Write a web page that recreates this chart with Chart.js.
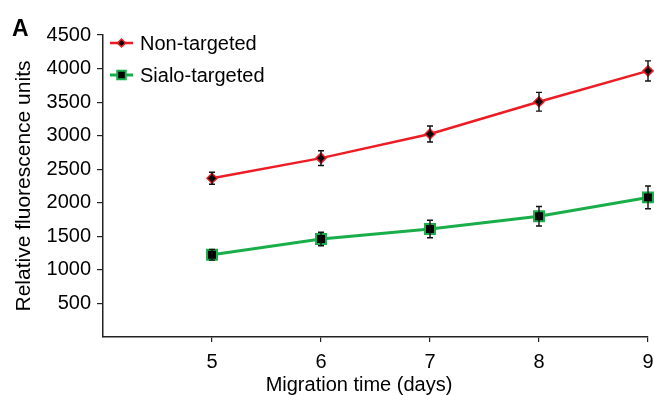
<!DOCTYPE html>
<html>
<head>
<meta charset="utf-8">
<script src="https://cdn.jsdelivr.net/npm/chart.js@4.4.0/dist/chart.umd.min.js"></script>
<style>
  html, body { margin: 0; padding: 0; background: #fff; }
  #wrap { width: 654px; height: 395px; position: relative; }
</style>
</head>
<body>
<div id="wrap"><canvas id="chart"></canvas></div>
<script>
// Data
const days = [5, 6, 7, 8, 9];
const nonTargeted = [2365, 2665, 3025, 3505, 3965];
const nonTargetedErr = [90, 110, 120, 140, 150];
const sialoTargeted = [1225, 1460, 1610, 1800, 2080];
const sialoTargetedErr = [80, 100, 130, 145, 170];
const yTicks = [500, 1000, 1500, 2000, 2500, 3000, 3500, 4000, 4500];
const xTicks = [5, 6, 7, 8, 9];

const RED = '#ed1c24';
const GREEN = '#1aae4b';
const FONT = 'Liberation Sans, Arial, Helvetica, sans-serif';

const errorBars = {
    id: 'errorBars',
    afterDatasetsDraw(chart) {
        const ctx = chart.ctx;
        const yScale = chart.scales.y;
        ctx.save();
        ctx.strokeStyle = '#111';
        ctx.lineWidth = 1.4;
        chart.data.datasets.forEach(function (ds, i) {
            const meta = chart.getDatasetMeta(i);
            meta.data.forEach(function (pt, j) {
                const v = ds.data[j].y;
                const e = ds.errors[j];
                const yTop = yScale.getPixelForValue(v + e);
                const yBot = yScale.getPixelForValue(v - e);
                ctx.beginPath();
                ctx.moveTo(pt.x, yTop);
                ctx.lineTo(pt.x, yBot);
                ctx.moveTo(pt.x - 3, yTop);
                ctx.lineTo(pt.x + 3, yTop);
                ctx.moveTo(pt.x - 3, yBot);
                ctx.lineTo(pt.x + 3, yBot);
                ctx.stroke();
            });
        });
        ctx.restore();
    }
};

// legend with line + marker, x title, and the panel letter
const extras = {
    id: 'extras',
    afterDraw(chart) {
        const ctx = chart.ctx;
        ctx.save();
        ctx.fillStyle = '#000';
        ctx.font = 'bold 23px ' + FONT;
        ctx.textBaseline = 'alphabetic';
        ctx.fillText('A', 12, 36);

        // x axis title sits a little left of the axis centre in the original
        ctx.font = '20px ' + FONT;
        ctx.textAlign = 'center';
        ctx.textBaseline = 'middle';
        ctx.fillText('Migration time (days)', 359, 385);

        ctx.textAlign = 'left';
        chart.data.datasets.forEach(function (ds, i) {
            const y = 43 + i * 32;
            ctx.strokeStyle = ds.borderColor;
            ctx.lineWidth = ds.borderWidth;
            ctx.beginPath();
            ctx.moveTo(110, y);
            ctx.lineTo(133, y);
            ctx.stroke();
            ctx.fillStyle = ds.pointBackgroundColor;
            ctx.strokeStyle = ds.pointBorderColor;
            ctx.lineWidth = ds.pointBorderWidth;
            Chart.helpers.drawPoint(ctx, {
                pointStyle: ds.pointStyle,
                radius: ds.pointRadius - 1,
                borderWidth: ds.pointBorderWidth
            }, 121.5, y);
            ctx.fillStyle = '#000';
            ctx.fillText(ds.label, 140, y + 1);
        });
        ctx.restore();
    }
};

const ctx = document.getElementById('chart').getContext('2d');
new Chart(ctx, {
    type: 'line',
    data: {
        datasets: [{
            label: 'Non-targeted',
            data: days.map((d, i) => ({ x: d, y: nonTargeted[i] })),
            errors: nonTargetedErr,
            borderColor: RED,
            borderWidth: 2.5,
            pointStyle: 'rectRot',
            pointRadius: 5,
            pointBackgroundColor: '#000',
            pointBorderColor: RED,
            pointBorderWidth: 1.5,
            clip: false
        }, {
            label: 'Sialo-targeted',
            data: days.map((d, i) => ({ x: d, y: sialoTargeted[i] })),
            errors: sialoTargetedErr,
            borderColor: GREEN,
            borderWidth: 3,
            pointStyle: 'rect',
            pointRadius: 7,
            pointBackgroundColor: '#000',
            pointBorderColor: GREEN,
            pointBorderWidth: 2,
            clip: false
        }]
    },
    options: {
        responsive: true,
        maintainAspectRatio: false,
        animation: false,
        layout: { autoPadding: false, padding: { top: 35, left: 0, right: 6, bottom: 0 } },
        plugins: {
            legend: { display: false },
            tooltip: { enabled: false }
        },
        scales: {
            x: {
                type: 'linear',
                min: 4,
                max: 9,
                afterBuildTicks: function (scale) {
                    scale.ticks = xTicks.map(v => ({ value: v }));
                },
                afterFit: function (scale) {
                    scale.height = 58;
                    scale.paddingRight = 0;
                    scale.paddingLeft = 0;
                },
                border: { display: true, color: '#222', width: 1.5 },
                grid: { drawOnChartArea: false, drawTicks: true, tickLength: 5, color: '#222', lineWidth: 1.2 },
                ticks: { color: '#000', padding: 8, maxRotation: 0, font: { family: FONT, size: 20 } },
                title: { display: false }
            },
            y: {
                min: 0,
                max: 4500,
                afterBuildTicks: function (scale) {
                    scale.ticks = yTicks.map(v => ({ value: v }));
                },
                afterFit: function (scale) { scale.width = 103; },
                border: { display: true, color: '#222', width: 1.5 },
                grid: { drawOnChartArea: false, drawTicks: true, tickLength: 6, color: '#222', lineWidth: 1.2 },
                ticks: {
                    color: '#000',
                    padding: 6,
                    font: { family: FONT, size: 20 },
                    callback: function (value) { return String(value); }
                },
                title: {
                    display: true,
                    text: 'Relative fluorescence units',
                    color: '#000',
                    font: { family: FONT, size: 21 },
                    padding: { top: 12, bottom: 0 }
                }
            }
        }
    },
    plugins: [errorBars, extras]
});
</script>
</body>
</html>
